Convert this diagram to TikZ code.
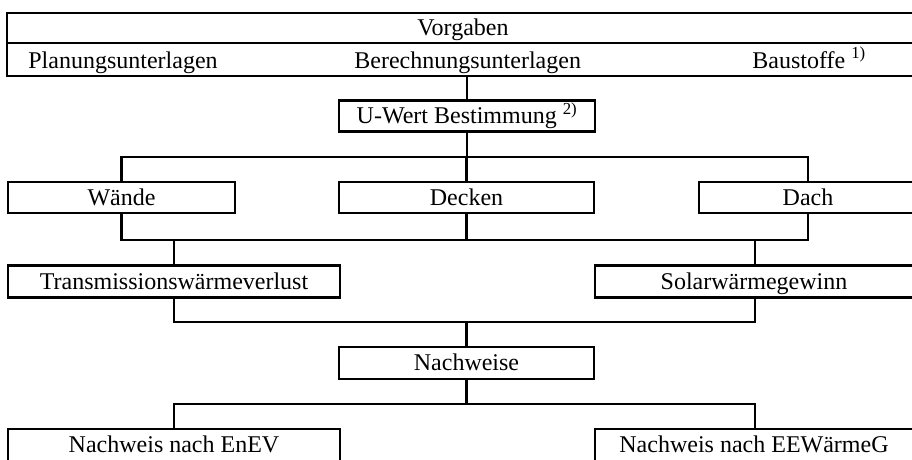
\documentclass[tikz,border=0pt]{standalone}
\usepackage{fontspec}
\setmainfont{Liberation Serif}
\begin{document}
\begin{tikzpicture}[x=1pt,y=-1pt,line width=2.8pt,
  box/.style={draw,rectangle,inner sep=0pt,minimum height=31pt,
    text height=15pt,text depth=0pt,font=\fontsize{24}{28}\selectfont},
  txt/.style={inner sep=0pt,text height=15pt,text depth=0pt,font=\fontsize{24}{28}\selectfont},
  lbl/.style={inner sep=0pt,anchor=base west,font=\fontsize{24}{28}\selectfont}]
\useasboundingbox (0,0) rectangle (912,459);
\clip (0,0) rectangle (912,459);
% top box (its right side runs past the picture's edge)
\node[box,minimum width=943pt,minimum height=30pt] (vorg1) at (478.5,28) {};
\node[box,minimum width=943pt,minimum height=33pt] (vorg2) at (478.5,59.5) {};
\node[txt] (vorgt) at (463,28) {Vorgaben};
\node[lbl] (plan) at (27,68) {Planungsunterlagen};
\node[lbl] (ber) at (353,68) {Berechnungsunterlagen};
\node[lbl] (bau) at (751,68) {Baustoffe \textsuperscript{1)}};
% boxes
\node[box,minimum width=256pt] (uwert) at (467,115.75) {U-Wert Bestimmung \textsuperscript{2)}};
\node[box,minimum width=227pt] (waende) at (121.5,197.5) {Wände};
\node[box,minimum width=255pt] (decken) at (466.5,197.5) {Decken};
\node[box,minimum width=251pt] (dach) at (824.5,197.5) {};
\node[txt] (dacht) at (808,197.5) {Dach};
\node[box,minimum width=332pt,minimum height=32pt] (trans) at (174,281.5) {Transmissionswärmeverlust};
\node[box,minimum width=355pt,minimum height=32pt] (solar) at (772.5,281.5) {};
\node[txt] (solart) at (754,281.5) {Solarwärmegewinn};
\node[box,minimum width=255pt,minimum height=32pt] (nachw) at (466.5,363) {Nachweise};
\node[box,minimum width=332pt,minimum height=32pt] (enev) at (174,445) {Nachweis nach EnEV};
\node[box,minimum width=355pt,minimum height=32pt] (eew) at (772.5,445) {};
\node[txt] (eewt) at (754,445) {Nachweis nach EEWärmeG};
% bus coordinates
\coordinate (b1) at (0,157);
\coordinate (b2) at (0,240);
\coordinate (b3) at (0,322);
\coordinate (b4) at (0,404);
% connector x positions for the clipped right boxes
\coordinate (dachx) at (808,0);
\coordinate (solarx) at (755,0);
% connectors
\draw (uwert.north) -- (uwert.north |- vorg2.south);
\draw (uwert.south) -- (uwert.south |- b1);
\draw (waende.north) -- (waende.north |- b1) -- (dachx |- b1) -- (dachx |- dach.north);
\draw (decken.north) -- (decken.north |- b1);
\draw (waende.south) -- (waende.south |- b2) -- (dachx |- b2) -- (dachx |- dach.south);
\draw (decken.south) -- (decken.south |- b2);
\draw (trans.north) -- (trans.north |- b2);
\draw (solarx |- solar.north) -- (solarx |- b2);
\draw (trans.south) -- (trans.south |- b3) -- (solarx |- b3) -- (solarx |- solar.south);
\draw (nachw.north) -- (nachw.north |- b3);
\draw (nachw.south) -- (nachw.south |- b4);
\draw (enev.north) -- (enev.north |- b4) -- (solarx |- b4) -- (solarx |- eew.north);
\end{tikzpicture}
\end{document}
